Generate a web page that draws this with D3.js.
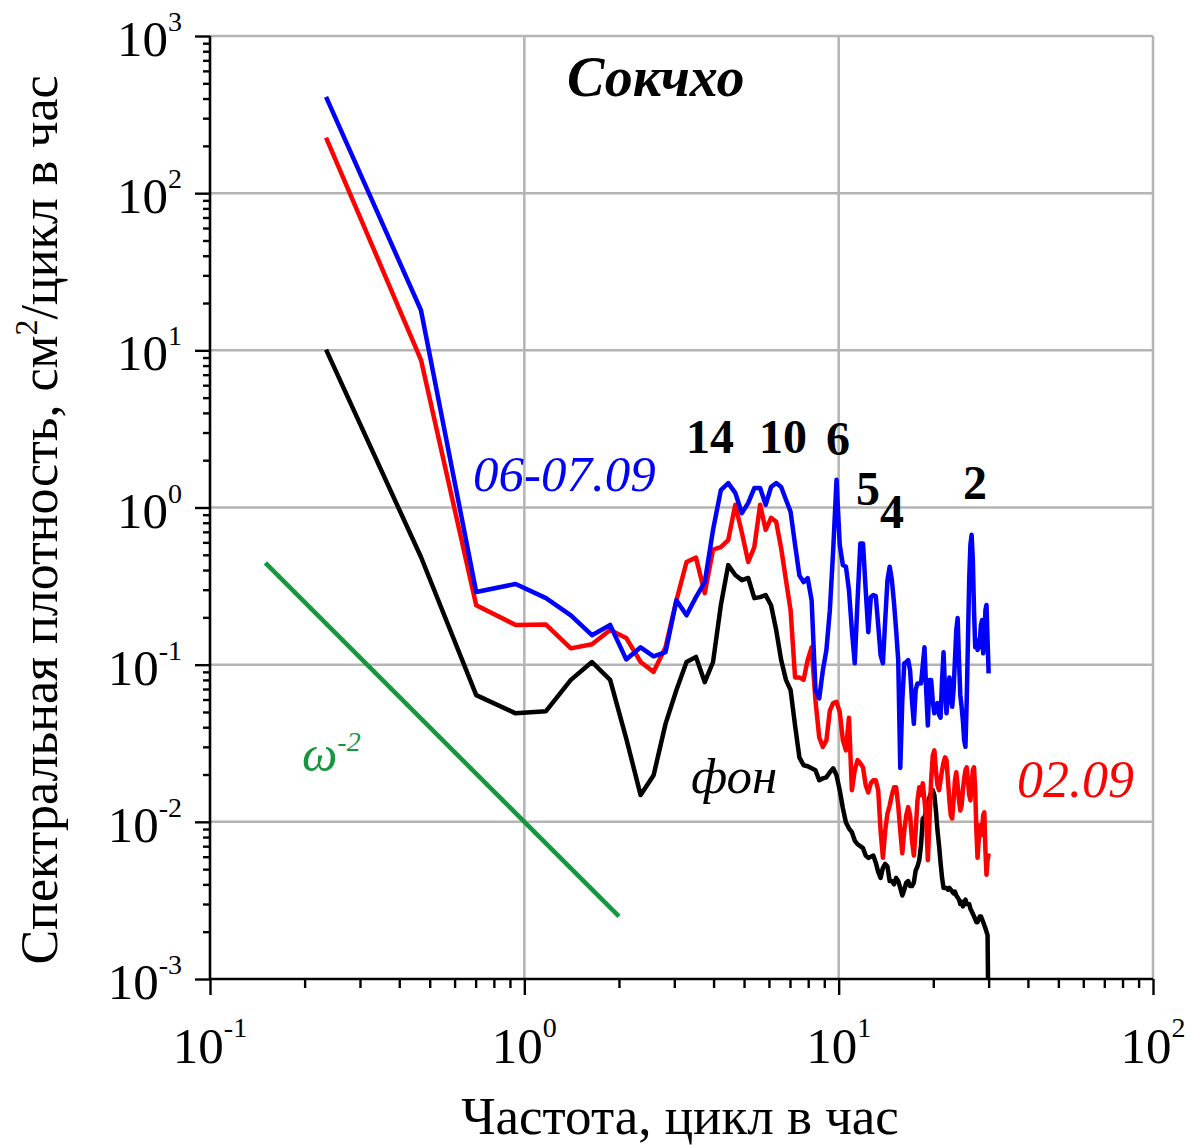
<!DOCTYPE html>
<html>
<head>
<meta charset="utf-8">
<script src="https://cdn.jsdelivr.net/npm/d3@7"></script>
<style>
  body { margin: 0; background: #fff; }
  svg { display: block; }
  text { font-family: "Liberation Serif", "Times New Roman", serif; }
</style>
</head>
<body>
<div id="chart"></div>
<script>
/* Спектры колебаний уровня — Сокчхо, log-log */

// частоты, цикл в час (шаг ~0.234)
const FREQ = [
  0.234, 0.469, 0.703, 0.938, 1.172, 1.406, 1.641, 1.875, 2.109, 2.344,
  2.578, 2.813, 3.047, 3.281, 3.516, 3.750, 3.984, 4.219, 4.453, 4.688,
  4.922, 5.156, 5.391, 5.625, 5.859, 6.094, 6.328, 6.563, 6.797, 7.031,
  7.266, 7.500, 7.734, 7.969, 8.203, 8.438, 8.672, 8.906, 9.141, 9.375,
  9.609, 9.844, 10.078, 10.313, 10.547, 10.781, 11.016, 11.250, 11.484, 11.719,
  11.953, 12.188, 12.422, 12.656, 12.891, 13.125, 13.359, 13.594, 13.828, 14.063,
  14.297, 14.531, 14.766, 15.000, 15.234, 15.469, 15.703, 15.938, 16.172, 16.406,
  16.641, 16.875, 17.109, 17.344, 17.578, 17.813, 18.047, 18.281, 18.516, 18.750,
  18.984, 19.219, 19.453, 19.688, 19.922, 20.156, 20.391, 20.625, 20.859, 21.094,
  21.328, 21.563, 21.797, 22.031, 22.266, 22.500, 22.734, 22.969, 23.203, 23.438,
  23.672, 23.906, 24.141, 24.375, 24.609, 24.844, 25.078, 25.313, 25.547, 25.781,
  26.016, 26.250, 26.484, 26.719, 26.953, 27.188, 27.422, 27.656, 27.891, 28.125,
  28.359, 28.594, 28.828, 29.063, 29.297, 29.531, 29.766, 30.000,
];

// 06-07.09 (синий)
const S_0607 = [
  410, 18, 0.29, 0.326, 0.265, 0.206, 0.154, 0.179, 0.108, 0.129,
  0.113, 0.120, 0.257, 0.206, 0.269, 0.335, 0.72, 1.29, 1.43, 1.24,
  0.92, 1.07, 1.33, 1.33, 1.04, 1.35, 1.43, 1.35, 1.12, 0.94,
  0.58, 0.37, 0.335, 0.355, 0.257, 0.069, 0.061, 0.092, 0.124, 0.222,
  0.54, 1.50, 0.58, 0.43, 0.42, 0.30, 0.166, 0.102, 0.257, 0.59,
  0.59, 0.30, 0.161, 0.269, 0.277, 0.273, 0.179, 0.115, 0.102, 0.192,
  0.345, 0.42, 0.345, 0.247, 0.166, 0.107, 0.022, 0.059, 0.102, 0.104,
  0.107, 0.092, 0.059, 0.042, 0.069, 0.076, 0.076, 0.076, 0.099, 0.129,
  0.069, 0.041, 0.080, 0.080, 0.059, 0.049, 0.055, 0.057, 0.048, 0.046,
  0.080, 0.120, 0.069, 0.049, 0.064, 0.083, 0.064, 0.054, 0.069, 0.107,
  0.166, 0.198, 0.107, 0.064, 0.054, 0.044, 0.033, 0.030, 0.059, 0.143,
  0.345, 0.58, 0.67, 0.46, 0.222, 0.129, 0.143, 0.124, 0.128, 0.143,
  0.179, 0.192, 0.118, 0.143, 0.222, 0.24, 0.143, 0.088,
];

// 02.09 (красный)
const S_0209 = [
  226, 8.7, 0.239, 0.179, 0.18, 0.127, 0.135, 0.166, 0.148, 0.104,
  0.090, 0.129, 0.257, 0.45, 0.48, 0.285, 0.54, 0.56, 0.62, 1.04,
  0.69, 0.45, 0.56, 1.04, 0.72, 0.86, 0.81, 0.55, 0.345, 0.222,
  0.083, 0.083, 0.080, 0.107, 0.129, 0.059, 0.0345, 0.030, 0.033, 0.051,
  0.057, 0.058, 0.050, 0.033, 0.0285, 0.046, 0.0159, 0.0213, 0.0247, 0.0236,
  0.0222, 0.0171, 0.0154, 0.0176, 0.0184, 0.0184, 0.0159, 0.0088, 0.0059, 0.0088,
  0.0113, 0.0127, 0.0148, 0.0166, 0.0166, 0.0127, 0.0088, 0.0063, 0.0088, 0.0110,
  0.0124, 0.0110, 0.0076, 0.0061, 0.0088, 0.0137, 0.0166, 0.0148, 0.0176, 0.0137,
  0.0102, 0.0057, 0.0102, 0.0184, 0.0265, 0.0285, 0.0213, 0.0171, 0.0159, 0.0184,
  0.0213, 0.0239, 0.0257, 0.0247, 0.0184, 0.0137, 0.0110, 0.0105, 0.0137, 0.0184,
  0.0207, 0.0171, 0.0137, 0.0118, 0.0127, 0.0159, 0.0189, 0.0213, 0.0222, 0.0184,
  0.0148, 0.0137, 0.0171, 0.0213, 0.0222, 0.0159, 0.0088, 0.0059, 0.0076, 0.0095,
  0.0082, 0.0088, 0.0110, 0.0115, 0.0066, 0.0046, 0.0057, 0.0063,
];

// фон (чёрный)
const S_FON = [
  10.1, 0.484, 0.064, 0.049, 0.0506, 0.080, 0.104, 0.080, 0.034, 0.0148,
  0.0198, 0.042, 0.069, 0.104, 0.112, 0.0774, 0.104, 0.239, 0.430, 0.372,
  0.345, 0.356, 0.265, 0.269, 0.277, 0.239, 0.166, 0.107, 0.080, 0.069,
  0.041, 0.0257, 0.0229, 0.0226, 0.0219, 0.0213, 0.0184, 0.0189, 0.0192, 0.0207,
  0.0219, 0.0198, 0.0159, 0.0122, 0.0099, 0.0091, 0.0086, 0.0076, 0.0072, 0.0070,
  0.0068, 0.0061, 0.0059, 0.0060, 0.0061, 0.0055, 0.0048, 0.0044, 0.0051, 0.0054,
  0.0052, 0.0042, 0.0042, 0.0040, 0.0044, 0.0042, 0.0038, 0.0034, 0.0037, 0.0041,
  0.0042, 0.0039, 0.0039, 0.0041, 0.0049, 0.0052, 0.0057, 0.0071, 0.0105, 0.0107,
  0.0118, 0.0131, 0.0143, 0.0154, 0.0159, 0.0148, 0.0118, 0.0088, 0.0071, 0.0055,
  0.0044, 0.0038, 0.0038, 0.0038, 0.0037, 0.0038, 0.0037, 0.0036, 0.0035, 0.0036,
  0.0034, 0.0033, 0.0032, 0.0030, 0.0031, 0.0029, 0.0030, 0.0032, 0.0030, 0.0030,
  0.0030, 0.0028, 0.0027, 0.0026, 0.0025, 0.0024, 0.0023, 0.0023, 0.0024, 0.0025,
  0.0025, 0.0024, 0.0023, 0.0022, 0.0021, 0.0020, 0.0019, 0.0004,
];

// наклон ω^-2
const OMEGA_F = [0.15, 2.0];
const OMEGA_S = [0.444, 0.0025];

const X_EXP = [-1, 0, 1, 2];
const Y_EXP = [-3, -2, -1, 0, 1, 2, 3];
const PEAK_LABELS = ["14", "10", "6", "5", "4", "2"];

const W = 1191, H = 1145;
const L = 210, R = 1153, T = 36, B = 979;
const GRID = "#b4b4b4";
const LW = 4.5;

const svg = d3.select("#chart").append("svg")
  .attr("width", W).attr("height", H).attr("viewBox", `0 0 ${W} ${H}`);

const x = d3.scaleLog().domain([0.1, 100]).range([L, R]);
const y = d3.scaleLog().domain([1e-3, 1e3]).range([B, T]);

svg.append("defs").append("clipPath").attr("id", "plot")
  .append("rect").attr("x", L).attr("y", T).attr("width", R - L).attr("height", B - T);

/* сетка по декадам */
const g = svg.append("g");
g.selectAll("line.gx").data(X_EXP.slice(1)).join("line")
  .attr("x1", (e) => x(10 ** e)).attr("x2", (e) => x(10 ** e))
  .attr("y1", T).attr("y2", B)
  .attr("stroke", GRID).attr("stroke-width", 2.5);
g.selectAll("line.gy").data(Y_EXP.slice(1)).join("line")
  .attr("x1", L).attr("x2", R)
  .attr("y1", (e) => y(10 ** e)).attr("y2", (e) => y(10 ** e))
  .attr("stroke", GRID).attr("stroke-width", 2.5);

/* оси: крупные и мелкие деления */
const isMajor = (v) => Math.abs(Math.log10(v) - Math.round(Math.log10(v))) < 1e-9;
const xt = x.ticks(), yt = y.ticks();

const axX = svg.append("g").attr("transform", `translate(0,${B})`);
axX.append("g").call(d3.axisBottom(x).tickValues(xt.filter((v) => !isMajor(v))).tickSize(9).tickFormat(""));
axX.append("g").call(d3.axisBottom(x).tickValues(xt.filter(isMajor)).tickSize(16).tickFormat(""));
const axY = svg.append("g").attr("transform", `translate(${L},0)`);
axY.append("g").call(d3.axisLeft(y).tickValues(yt.filter((v) => !isMajor(v))).tickSize(7).tickFormat(""));
axY.append("g").call(d3.axisLeft(y).tickValues(yt.filter(isMajor)).tickSize(15).tickFormat(""));
svg.selectAll(".domain").remove();
svg.selectAll(".tick line").attr("stroke", "#000").attr("stroke-width", 2.4);

svg.append("line").attr("x1", L).attr("x2", R).attr("y1", B).attr("y2", B)
  .attr("stroke", "#000").attr("stroke-width", 2.6);
svg.append("line").attr("x1", L).attr("x2", L).attr("y1", T).attr("y2", B)
  .attr("stroke", "#000").attr("stroke-width", 2.6);

/* подписи делений 10^n */
const xl = svg.append("g").selectAll("text").data(X_EXP).join("text")
  .attr("x", (e) => x(10 ** e)).attr("y", 1063)
  .attr("text-anchor", "middle").style("font-size", "51px");
xl.append("tspan").text("10");
xl.append("tspan").attr("dy", -26).style("font-size", "28px").text((e) => e);

const yl = svg.append("g").selectAll("text").data(Y_EXP).join("text")
  .attr("x", 182).attr("y", (e) => y(10 ** e) + 20)
  .attr("text-anchor", "end").style("font-size", "51px");
yl.append("tspan").text("10");
yl.append("tspan").attr("dy", -25).style("font-size", "28px").text((e) => e);

/* кривые */
const line = d3.line().x((d) => x(d[0])).y((d) => y(d[1]));
const curves = [
  { s: S_FON, c: "#000000" },
  { s: S_0209, c: "#ff0000" },
  { s: S_0607, c: "#0000ff" },
];
const gc = svg.append("g").attr("clip-path", "url(#plot)");
curves.forEach(({ s, c }) => {
  gc.append("path").datum(d3.zip(FREQ, s)).attr("d", line)
    .attr("fill", "none").attr("stroke", c).attr("stroke-width", LW)
    .attr("stroke-linejoin", "round");
});
gc.append("path").datum(d3.zip(OMEGA_F, OMEGA_S)).attr("d", line)
  .attr("fill", "none").attr("stroke", "#16973f").attr("stroke-width", LW);

/* надписи */
svg.append("text").attr("x", 567).attr("y", 96)
  .style("font-size", "56px").style("font-weight", "bold").style("font-style", "italic")
  .text("Сокчхо");

svg.append("text").attr("x", 473).attr("y", 491).attr("fill", "#0000ff")
  .style("font-size", "51px").style("font-style", "italic").text("06-07.09");
svg.append("text").attr("x", 1017).attr("y", 797).attr("fill", "#ff0000")
  .style("font-size", "52px").style("font-style", "italic").text("02.09");
svg.append("text").attr("x", 691).attr("y", 793).attr("fill", "#000")
  .style("font-size", "51px").style("font-style", "italic").text("фон");

const om = svg.append("text").attr("x", 302).attr("y", 771).attr("fill", "#16973f")
  .style("font-size", "50px").style("font-style", "italic");
om.append("tspan").text("ω");
om.append("tspan").attr("dy", -20).style("font-size", "28px").text("-2");

const peakPos = [[686, 453], [759, 453], [826, 455], [856, 505], [880, 528], [963, 499]];
svg.append("g").selectAll("text").data(PEAK_LABELS).join("text")
  .attr("x", (d, i) => peakPos[i][0]).attr("y", (d, i) => peakPos[i][1])
  .style("font-size", "48px").style("font-weight", "bold").text((d) => d);

/* заголовки осей */
svg.append("text").attr("x", 680).attr("y", 1134).attr("text-anchor", "middle")
  .style("font-size", "53px").text("Частота, цикл в час");

const yt2 = svg.append("text").attr("transform", "translate(57,520) rotate(-90)")
  .attr("text-anchor", "middle").style("font-size", "52px");
yt2.append("tspan").text("Спектральная плотность, см");
yt2.append("tspan").attr("dy", -20).style("font-size", "32px").text("2");
yt2.append("tspan").attr("dy", 20).text("/цикл в час");
</script>
</body>
</html>
